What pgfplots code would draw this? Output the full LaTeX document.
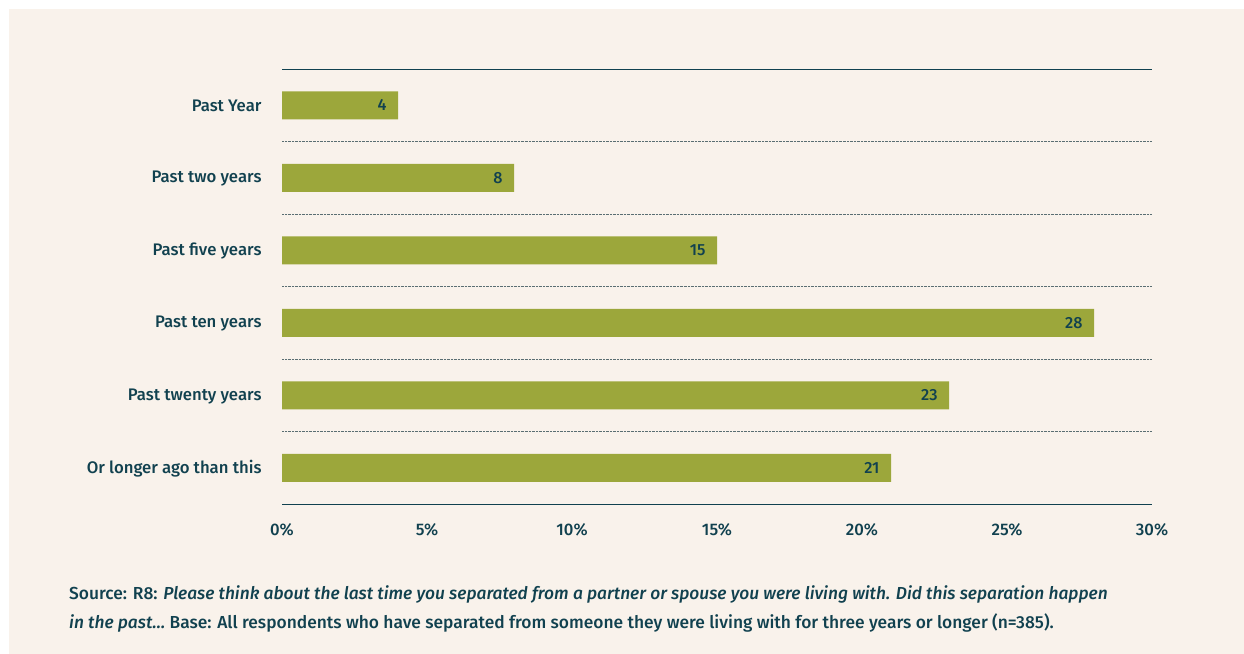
\documentclass[border=0pt]{standalone}
\usepackage{pgfplots}
\pgfplotsset{compat=1.18}
\usepackage{fontspec}
\setmainfont{Fira Sans}[UprightFont=* Medium, ItalicFont=* Medium Italic, BoldFont=* SemiBold]
\definecolor{bgcream}{HTML}{F9F2EB}
\definecolor{barolive}{HTML}{9CA73B}
\definecolor{txt}{HTML}{11414F}
\definecolor{dotc}{HTML}{5A6E72}
\begin{document}
\begin{tikzpicture}
\fill[white] (0,0) rectangle (1244bp,654bp);
\fill[bgcream] (9bp,0) rectangle (1244bp,645bp);
\begin{axis}[
  at={(282bp,150bp)}, anchor=south west,
  scale only axis, width=870bp, height=435bp,
  xmin=0, xmax=30, ymin=-0.5, ymax=5.5, y dir=reverse,
  xbar, bar width=28bp, bar shift=0pt,
  ytick={0,...,5},
  yticklabels={Past Year,Past two years,Past five years,Past ten years,Past twenty years,Or longer ago than this},
  xtick={0,5,...,30},
  xticklabel={\pgfmathprintnumber{\tick}\%},
  /pgf/number format/assume math mode=true,
  major tick length=0pt, minor tick length=0pt,
  axis line style={draw=none},
  minor ytick={0.5,1.5,2.5,3.5,4.5},
  yminorgrids, minor grid style={densely dotted, dotc, line width=0.8bp},
  tick label style={font=\fontsize{16.8}{19}\selectfont, text=txt},
  yticklabel style={xshift=-17bp, yshift=-1bp},
  xticklabel style={yshift=-16bp},
  nodes near coords,
  nodes near coords style={anchor=east, xshift=-8bp, font=\fontsize{16.2}{19}\selectfont, text=txt},
  clip=false,
]
\addplot[fill=barolive, draw=none] coordinates {(4,0) (8,1) (15,2) (28,3) (23,4) (21,5)};
\draw[txt, line width=1bp] (rel axis cs:0,0) -- (rel axis cs:1,0);
\draw[txt, line width=1bp] (rel axis cs:0,1) -- (rel axis cs:1,1);
\end{axis}
\node[anchor=base west, inner sep=0, text=txt, font=\fontsize{17.45}{20}\selectfont] at (69bp,54bp) {Source: R8: \textit{Please think about the last time you separated from a partner or spouse you were living with. Did this separation happen}};
\node[anchor=base west, inner sep=0, text=txt, font=\fontsize{17.45}{20}\selectfont] at (69bp,26bp) {\textit{in the past\dots} Base: All respondents who have separated from someone they were living with for three years or longer (n=385).};
\end{tikzpicture}
\end{document}
